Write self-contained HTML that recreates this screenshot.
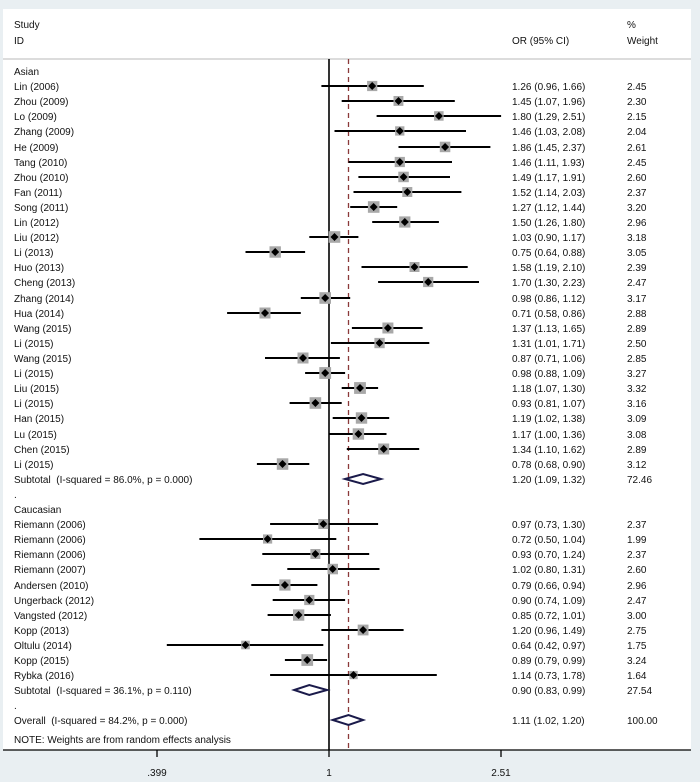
<!DOCTYPE html>
<html><head><meta charset="utf-8"><style>
html,body{margin:0;padding:0;background:#e9eff2;}
svg{display:block;font-family:"Liberation Sans",Arial,sans-serif;font-size:10px;fill:#111;}
</style></head><body>
<svg width="700" height="782" viewBox="0 0 700 782" xmlns="http://www.w3.org/2000/svg">
<defs><path id="d" d="M0,-4 L4,0 L0,4 L-4,0Z" fill="#000"/></defs>
<rect x="0" y="0" width="700" height="782" fill="#e9eff2"/>
<rect x="3" y="9" width="688" height="741" fill="#fff"/>
<line x1="3" y1="59" x2="691" y2="59" stroke="#c8c8c8" stroke-width="1.2"/>
<line x1="329" y1="59" x2="329" y2="750" stroke="#000" stroke-width="1.6"/>
<line x1="348.5" y1="59" x2="348.5" y2="750" stroke="#8b3a3a" stroke-width="1.3" stroke-dasharray="5,4"/>
<line x1="3" y1="750" x2="691" y2="750" stroke="#000" stroke-width="1.3"/>
<g stroke="#000" stroke-width="1.3"><line x1="157" y1="750" x2="157" y2="757"/><line x1="329" y1="750" x2="329" y2="757"/><line x1="501" y1="750" x2="501" y2="757"/></g>
<g text-anchor="middle"><text x="157" y="776">.399</text><text x="329" y="776">1</text><text x="501" y="776">2.51</text></g>
<text x="14" y="28">Study</text><text x="14" y="44">ID</text>
<text x="512" y="44">OR (95% CI)</text>
<text x="627" y="28">%</text><text x="627" y="44">Weight</text>

<g stroke="#000" stroke-width="2">
<line x1="321.4" x2="423.8" y1="86" y2="86"/><line x1="341.7" x2="454.8" y1="101" y2="101"/><line x1="376.6" x2="501.1" y1="116" y2="116"/><line x1="334.5" x2="466" y1="131" y2="131"/><line x1="398.5" x2="490.4" y1="147" y2="147"/><line x1="348.5" x2="452" y1="162" y2="162"/><line x1="358.4" x2="450" y1="177" y2="177"/><line x1="353.5" x2="461.4" y1="192" y2="192"/><line x1="350.2" x2="397.2" y1="207" y2="207"/><line x1="372.2" x2="438.9" y1="222" y2="222"/><line x1="309.3" x2="358.4" y1="237" y2="237"/><line x1="245.5" x2="305.1" y1="252" y2="252"/><line x1="361.5" x2="467.7" y1="267" y2="267"/><line x1="378.1" x2="479" y1="282" y2="282"/><line x1="300.8" x2="350.2" y1="298" y2="298"/><line x1="227.1" x2="300.8" y1="313" y2="313"/><line x1="351.9" x2="422.6" y1="328" y2="328"/><line x1="330.9" x2="429.3" y1="343" y2="343"/><line x1="265" x2="339.9" y1="358" y2="358"/><line x1="305.1" x2="345.1" y1="373" y2="373"/><line x1="341.7" x2="378.1" y1="388" y2="388"/><line x1="289.6" x2="341.7" y1="403" y2="403"/><line x1="332.7" x2="389.2" y1="418" y2="418"/><line x1="329" x2="386.5" y1="434" y2="434"/><line x1="346.8" x2="419.2" y1="449" y2="449"/><line x1="256.9" x2="309.3" y1="464" y2="464"/>
<line x1="270.1" x2="378.1" y1="524" y2="524"/><line x1="199.4" x2="336.3" y1="539" y2="539"/><line x1="262.3" x2="369.2" y1="554" y2="554"/><line x1="287.3" x2="379.5" y1="569" y2="569"/><line x1="251.3" x2="317.4" y1="585" y2="585"/><line x1="272.7" x2="345.1" y1="600" y2="600"/><line x1="267.6" x2="330.9" y1="615" y2="615"/><line x1="321.4" x2="403.6" y1="630" y2="630"/><line x1="166.8" x2="323.3" y1="645" y2="645"/><line x1="284.9" x2="327.1" y1="660" y2="660"/><line x1="270.1" x2="436.8" y1="675" y2="675"/>
</g>
<g fill="#a8a8a8">
<rect x="367.1" y="80.9" width="10.2" height="10.2"/><rect x="393.5" y="96" width="9.9" height="9.9"/><rect x="434.1" y="111.2" width="9.5" height="9.5"/><rect x="395.1" y="126.3" width="9.3" height="9.3"/><rect x="439.8" y="141.7" width="10.5" height="10.5"/><rect x="394.7" y="156.9" width="10.2" height="10.2"/><rect x="398.3" y="171.7" width="10.5" height="10.5"/><rect x="402.3" y="187" width="10" height="10"/><rect x="367.9" y="201.2" width="11.6" height="11.6"/><rect x="399.2" y="216.4" width="11.2" height="11.2"/><rect x="328.7" y="231.2" width="11.6" height="11.6"/><rect x="269.5" y="246.3" width="11.4" height="11.4"/><rect x="409.5" y="262" width="10" height="10"/><rect x="423.1" y="276.9" width="10.2" height="10.2"/><rect x="319.4" y="292.2" width="11.6" height="11.6"/><rect x="259.5" y="307.5" width="11" height="11"/><rect x="382.4" y="322.5" width="11" height="11"/><rect x="374.4" y="337.9" width="10.3" height="10.3"/><rect x="297.5" y="352.5" width="11" height="11"/><rect x="319.3" y="367.1" width="11.8" height="11.8"/><rect x="354.1" y="382.1" width="11.8" height="11.8"/><rect x="309.6" y="397.2" width="11.6" height="11.6"/><rect x="355.8" y="412.3" width="11.4" height="11.4"/><rect x="352.7" y="428.3" width="11.4" height="11.4"/><rect x="378.2" y="443.5" width="11" height="11"/><rect x="276.8" y="458.3" width="11.5" height="11.5"/>
<rect x="318.3" y="519" width="10" height="10"/><rect x="263" y="534.4" width="9.2" height="9.2"/><rect x="310.4" y="549" width="10" height="10"/><rect x="327.5" y="563.8" width="10.5" height="10.5"/><rect x="279.3" y="579.4" width="11.2" height="11.2"/><rect x="304.2" y="594.9" width="10.2" height="10.2"/><rect x="293" y="609.4" width="11.3" height="11.3"/><rect x="357.7" y="624.6" width="10.8" height="10.8"/><rect x="241.2" y="640.7" width="8.6" height="8.6"/><rect x="301.4" y="654.2" width="11.7" height="11.7"/><rect x="349.4" y="670.9" width="8.3" height="8.3"/>
</g>
<g>
<use href="#d" x="372.2" y="86"/><use href="#d" x="398.5" y="101"/><use href="#d" x="438.9" y="116"/><use href="#d" x="399.8" y="131"/><use href="#d" x="445.1" y="147"/><use href="#d" x="399.8" y="162"/><use href="#d" x="403.6" y="177"/><use href="#d" x="407.3" y="192"/><use href="#d" x="373.7" y="207"/><use href="#d" x="404.8" y="222"/><use href="#d" x="334.5" y="237"/><use href="#d" x="275.2" y="252"/><use href="#d" x="414.5" y="267"/><use href="#d" x="428.2" y="282"/><use href="#d" x="325.2" y="298"/><use href="#d" x="265" y="313"/><use href="#d" x="387.9" y="328"/><use href="#d" x="379.5" y="343"/><use href="#d" x="303" y="358"/><use href="#d" x="325.2" y="373"/><use href="#d" x="360" y="388"/><use href="#d" x="315.4" y="403"/><use href="#d" x="361.5" y="418"/><use href="#d" x="358.4" y="434"/><use href="#d" x="383.7" y="449"/><use href="#d" x="282.5" y="464"/>
<use href="#d" x="323.3" y="524"/><use href="#d" x="267.6" y="539"/><use href="#d" x="315.4" y="554"/><use href="#d" x="332.7" y="569"/><use href="#d" x="284.9" y="585"/><use href="#d" x="309.3" y="600"/><use href="#d" x="298.6" y="615"/><use href="#d" x="363.1" y="630"/><use href="#d" x="245.5" y="645"/><use href="#d" x="307.2" y="660"/><use href="#d" x="353.5" y="675"/>
</g>
<g fill="#fff" stroke="#1a1a4a" stroke-width="2">
<path d="M345.1,479 L363.1,474 L380.9,479 L363.1,484Z"/>
<path d="M294.2,690 L309.3,685 L327.1,690 L309.3,695Z"/>
<path d="M332.7,720 L348.5,715 L363.1,720 L348.5,725Z"/>
</g>

<g>
<text x="14" y="75">Asian</text>
<text x="14" y="90">Lin (2006)</text><text x="14" y="105">Zhou (2009)</text><text x="14" y="120">Lo (2009)</text><text x="14" y="135">Zhang (2009)</text><text x="14" y="151">He (2009)</text><text x="14" y="166">Tang (2010)</text><text x="14" y="181">Zhou (2010)</text><text x="14" y="196">Fan (2011)</text><text x="14" y="211">Song (2011)</text><text x="14" y="226">Lin (2012)</text><text x="14" y="241">Liu (2012)</text><text x="14" y="256">Li (2013)</text><text x="14" y="271">Huo (2013)</text><text x="14" y="286">Cheng (2013)</text><text x="14" y="302">Zhang (2014)</text><text x="14" y="317">Hua (2014)</text><text x="14" y="332">Wang (2015)</text><text x="14" y="347">Li (2015)</text><text x="14" y="362">Wang (2015)</text><text x="14" y="377">Li (2015)</text><text x="14" y="392">Liu (2015)</text><text x="14" y="407">Li (2015)</text><text x="14" y="422">Han (2015)</text><text x="14" y="438">Lu (2015)</text><text x="14" y="453">Chen (2015)</text><text x="14" y="468">Li (2015)</text>
<text x="14" y="483" xml:space="preserve">Subtotal  (I-squared = 86.0%, p = 0.000)</text>
<text x="14" y="498">.</text>
<text x="14" y="513">Caucasian</text>
<text x="14" y="528">Riemann (2006)</text><text x="14" y="543">Riemann (2006)</text><text x="14" y="558">Riemann (2006)</text><text x="14" y="573">Riemann (2007)</text><text x="14" y="589">Andersen (2010)</text><text x="14" y="604">Ungerback (2012)</text><text x="14" y="619">Vangsted (2012)</text><text x="14" y="634">Kopp (2013)</text><text x="14" y="649">Oltulu (2014)</text><text x="14" y="664">Kopp (2015)</text><text x="14" y="679">Rybka (2016)</text>
<text x="14" y="694" xml:space="preserve">Subtotal  (I-squared = 36.1%, p = 0.110)</text>
<text x="14" y="709">.</text>
<text x="14" y="724" xml:space="preserve">Overall  (I-squared = 84.2%, p = 0.000)</text>
<text x="14" y="743">NOTE: Weights are from random effects analysis</text>
</g>
<g>
<text x="512" y="90">1.26 (0.96, 1.66)</text><text x="512" y="105">1.45 (1.07, 1.96)</text><text x="512" y="120">1.80 (1.29, 2.51)</text><text x="512" y="135">1.46 (1.03, 2.08)</text><text x="512" y="151">1.86 (1.45, 2.37)</text><text x="512" y="166">1.46 (1.11, 1.93)</text><text x="512" y="181">1.49 (1.17, 1.91)</text><text x="512" y="196">1.52 (1.14, 2.03)</text><text x="512" y="211">1.27 (1.12, 1.44)</text><text x="512" y="226">1.50 (1.26, 1.80)</text><text x="512" y="241">1.03 (0.90, 1.17)</text><text x="512" y="256">0.75 (0.64, 0.88)</text><text x="512" y="271">1.58 (1.19, 2.10)</text><text x="512" y="286">1.70 (1.30, 2.23)</text><text x="512" y="302">0.98 (0.86, 1.12)</text><text x="512" y="317">0.71 (0.58, 0.86)</text><text x="512" y="332">1.37 (1.13, 1.65)</text><text x="512" y="347">1.31 (1.01, 1.71)</text><text x="512" y="362">0.87 (0.71, 1.06)</text><text x="512" y="377">0.98 (0.88, 1.09)</text><text x="512" y="392">1.18 (1.07, 1.30)</text><text x="512" y="407">0.93 (0.81, 1.07)</text><text x="512" y="422">1.19 (1.02, 1.38)</text><text x="512" y="438">1.17 (1.00, 1.36)</text><text x="512" y="453">1.34 (1.10, 1.62)</text><text x="512" y="468">0.78 (0.68, 0.90)</text><text x="512" y="483">1.20 (1.09, 1.32)</text>
<text x="512" y="528">0.97 (0.73, 1.30)</text><text x="512" y="543">0.72 (0.50, 1.04)</text><text x="512" y="558">0.93 (0.70, 1.24)</text><text x="512" y="573">1.02 (0.80, 1.31)</text><text x="512" y="589">0.79 (0.66, 0.94)</text><text x="512" y="604">0.90 (0.74, 1.09)</text><text x="512" y="619">0.85 (0.72, 1.01)</text><text x="512" y="634">1.20 (0.96, 1.49)</text><text x="512" y="649">0.64 (0.42, 0.97)</text><text x="512" y="664">0.89 (0.79, 0.99)</text><text x="512" y="679">1.14 (0.73, 1.78)</text><text x="512" y="694">0.90 (0.83, 0.99)</text><text x="512" y="724">1.11 (1.02, 1.20)</text>
</g>
<g>
<text x="627" y="90">2.45</text><text x="627" y="105">2.30</text><text x="627" y="120">2.15</text><text x="627" y="135">2.04</text><text x="627" y="151">2.61</text><text x="627" y="166">2.45</text><text x="627" y="181">2.60</text><text x="627" y="196">2.37</text><text x="627" y="211">3.20</text><text x="627" y="226">2.96</text><text x="627" y="241">3.18</text><text x="627" y="256">3.05</text><text x="627" y="271">2.39</text><text x="627" y="286">2.47</text><text x="627" y="302">3.17</text><text x="627" y="317">2.88</text><text x="627" y="332">2.89</text><text x="627" y="347">2.50</text><text x="627" y="362">2.85</text><text x="627" y="377">3.27</text><text x="627" y="392">3.32</text><text x="627" y="407">3.16</text><text x="627" y="422">3.09</text><text x="627" y="438">3.08</text><text x="627" y="453">2.89</text><text x="627" y="468">3.12</text><text x="627" y="483">72.46</text>
<text x="627" y="528">2.37</text><text x="627" y="543">1.99</text><text x="627" y="558">2.37</text><text x="627" y="573">2.60</text><text x="627" y="589">2.96</text><text x="627" y="604">2.47</text><text x="627" y="619">3.00</text><text x="627" y="634">2.75</text><text x="627" y="649">1.75</text><text x="627" y="664">3.24</text><text x="627" y="679">1.64</text><text x="627" y="694">27.54</text><text x="627" y="724">100.00</text>
</g>
</svg>
</body></html>
